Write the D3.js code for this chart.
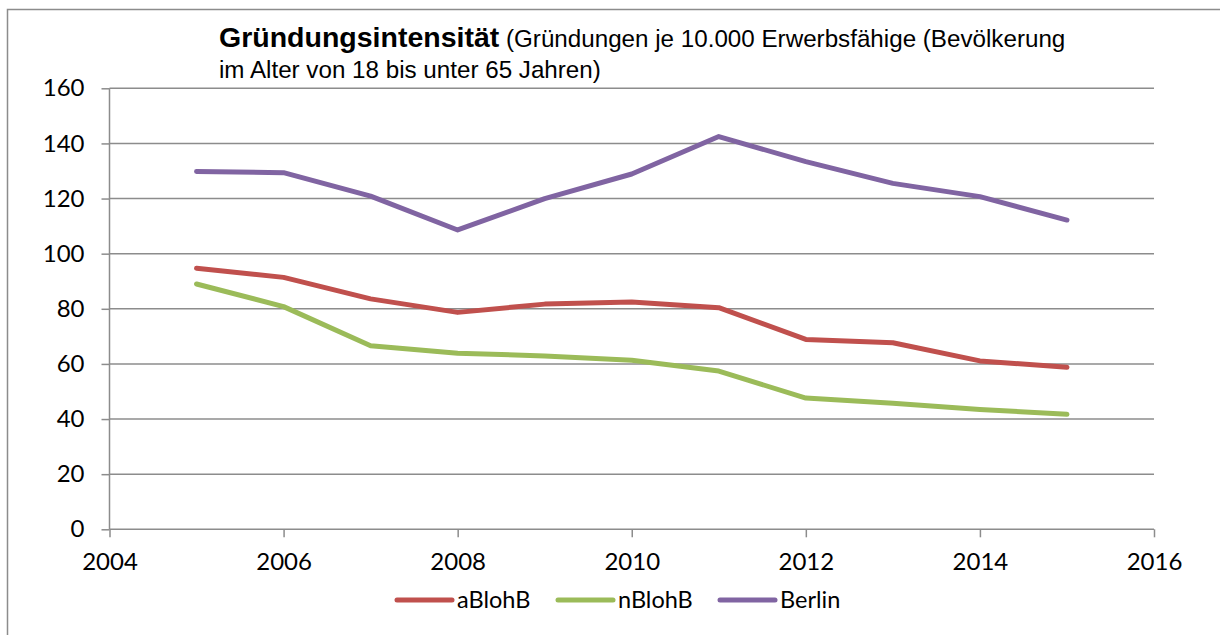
<!DOCTYPE html>
<html>
<head>
<meta charset="utf-8">
<script src="https://cdn.jsdelivr.net/npm/d3@7"></script>
<style>
  body { margin: 0; background: #fff; }
  svg { display: block; }
</style>
</head>
<body>
<div id="chart"></div>
<script>
let w = 1220;
let h = 635;

// data
const years = [2005, 2006, 2007, 2008, 2009, 2010, 2011, 2012, 2013, 2014, 2015];
const aBlohB = [94.7, 91.4, 83.6, 78.7, 81.7, 82.5, 80.4, 68.9, 67.7, 61.1, 58.8];
const nBlohB = [89.0, 80.8, 66.6, 63.9, 62.9, 61.3, 57.4, 47.6, 45.7, 43.5, 41.7];
const berlin = [129.8, 129.4, 120.9, 108.6, 120.0, 128.9, 142.5, 133.4, 125.5, 120.7, 112.2];
const seriesNames = ["aBlohB", "nBlohB", "Berlin"];
const xTicks = [2004, 2006, 2008, 2010, 2012, 2014, 2016];
const yTicks = [0, 20, 40, 60, 80, 100, 120, 140, 160];

const colors = d3.scaleOrdinal()
    .domain(seriesNames)
    .range(["#C0504D", "#9BBB59", "#8064A2"]);

const series = [
    { name: "aBlohB", values: aBlohB },
    { name: "nBlohB", values: nBlohB },
    { name: "Berlin", values: berlin }
];

const tickFont = "Lato, 'Open Sans', sans-serif";
const gridColor = "#8c8c8c";

let viz = d3.select("#chart")
    .append("svg")
    .attr("width", w)
    .attr("height", h);

// outer frame
viz.append("rect")
    .attr("x", 7.5)
    .attr("y", 9.5)
    .attr("width", w + 20)
    .attr("height", h + 20)
    .attr("fill", "none")
    .attr("stroke", gridColor)
    .attr("stroke-width", 1.5);

const xScale = d3.scaleLinear()
    .domain([2004, 2016])
    .range([109.5, 1154]);

const yScale = d3.scaleLinear()
    .domain([0, 160])
    .range([529.3, 88.3]);

// gridlines
viz.append("g")
    .selectAll("line")
    .data(yTicks.filter(d => d > 0))
    .enter()
    .append("line")
    .attr("x1", xScale(2004))
    .attr("x2", xScale(2016))
    .attr("y1", d => yScale(d))
    .attr("y2", d => yScale(d))
    .attr("stroke", gridColor)
    .attr("stroke-width", 1.5);

// y axis
let yAxis = viz.append("g")
    .attr("transform", `translate(${xScale(2004)},0)`)
    .call(d3.axisLeft(yScale).tickValues(yTicks).tickSize(8).tickPadding(17));
yAxis.select(".domain").attr("stroke", gridColor).attr("stroke-width", 1.5)
    .attr("d", `M0,${yScale(160)}V${yScale(0)}`);
yAxis.selectAll(".tick line").attr("stroke", gridColor).attr("stroke-width", 1.5);
yAxis.selectAll(".tick text")
    .attr("fill", "#000")
    .style("font-family", tickFont)
    .style("font-size", "24px");

// x axis
let xAxis = viz.append("g")
    .attr("transform", `translate(0,${yScale(0)})`)
    .call(d3.axisBottom(xScale).tickValues(xTicks).tickFormat(d3.format("d")).tickSize(8).tickPadding(16));
xAxis.select(".domain").attr("stroke", gridColor).attr("stroke-width", 1.5)
    .attr("d", `M${xScale(2004)},0H${xScale(2016)}`);
xAxis.selectAll(".tick line").attr("stroke", gridColor).attr("stroke-width", 1.5);
xAxis.selectAll(".tick text")
    .attr("fill", "#000")
    .style("font-family", tickFont)
    .style("font-size", "24px");

// lines
const line = d3.line()
    .x((d, i) => xScale(years[i]))
    .y(d => yScale(d));

viz.append("g")
    .selectAll("path")
    .data(series)
    .enter()
    .append("path")
    .attr("d", d => line(d.values))
    .attr("fill", "none")
    .attr("stroke", d => colors(d.name))
    .attr("stroke-width", 5)
    .attr("stroke-linecap", "round")
    .attr("stroke-linejoin", "round");

// title
let title = viz.append("text")
    .attr("x", 219)
    .attr("y", 47)
    .style("font-family", "'Liberation Sans', Arial, sans-serif")
    .attr("fill", "#000");
title.append("tspan")
    .style("font-weight", "bold")
    .style("font-size", "28.5px")
    .text("Gründungsintensität");
title.append("tspan")
    .style("font-size", "24.2px")
    .text(" (Gründungen je 10.000 Erwerbsfähige (Bevölkerung");

viz.append("text")
    .attr("x", 219)
    .attr("y", 78)
    .style("font-family", "'Liberation Sans', Arial, sans-serif")
    .style("font-size", "24.2px")
    .attr("fill", "#000")
    .text("im Alter von 18 bis unter 65 Jahren)");

// legend
const legendX = [397, 558, 720];
let legend = viz.append("g")
    .selectAll("g")
    .data(seriesNames)
    .enter()
    .append("g")
    .attr("transform", (d, i) => `translate(${legendX[i]},600)`);

legend.append("line")
    .attr("x1", 0)
    .attr("x2", 55)
    .attr("stroke", d => colors(d))
    .attr("stroke-width", 5)
    .attr("stroke-linecap", "round");

legend.append("text")
    .attr("x", 60)
    .attr("y", 0)
    .attr("dy", "0.36em")
    .style("font-family", tickFont)
    .style("font-size", "23.5px")
    .attr("fill", "#000")
    .text(d => d);
</script>
</body>
</html>
